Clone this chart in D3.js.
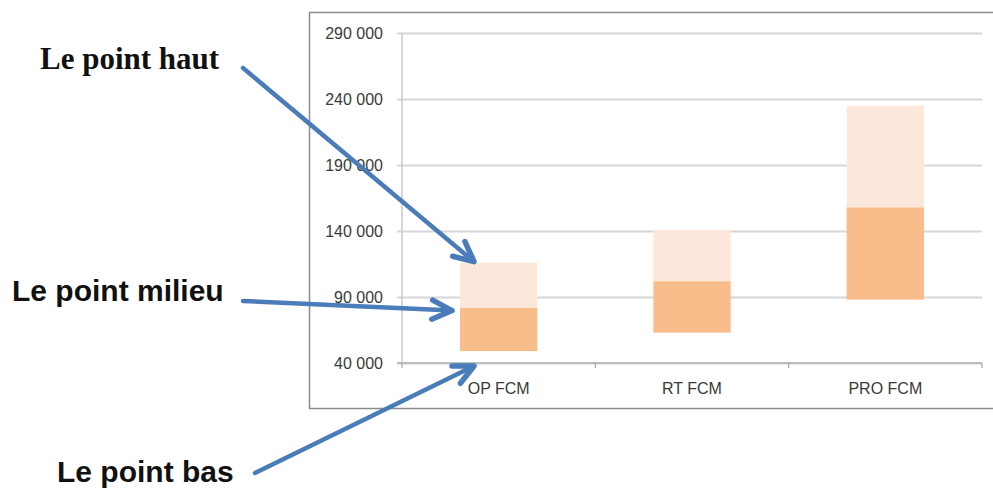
<!DOCTYPE html>
<html>
<head>
<meta charset="utf-8">
<script src="https://cdn.jsdelivr.net/npm/d3@7"></script>
<style>
  body { margin: 0; background: #fff; }
  svg { display: block; }
</style>
</head>
<body>
<div id="chart"></div>
<script>
// data
const categories = ["OP FCM", "RT FCM", "PRO FCM"];
const lowValues = [49000, 63000, 88000];    // le point bas
const midValues = [82000, 102000, 158000];  // le point milieu
const highValues = [116000, 141000, 235000]; // le point haut
const yTicks = [40000, 90000, 140000, 190000, 240000, 290000];
const callouts = ["Le point haut", "Le point milieu", "Le point bas"];

const width = 993, height = 488;
const plot = { left: 402, right: 982, top: 33, bottom: 363 };

const svg = d3.select("#chart").append("svg")
  .attr("width", width)
  .attr("height", height);

// outer chart frame
svg.append("rect")
  .attr("x", 309.5).attr("y", 12.5)
  .attr("width", 700).attr("height", 396)
  .attr("fill", "none")
  .attr("stroke", "#8c8c8c")
  .attr("stroke-width", 1.5);

const x = d3.scaleBand()
  .domain(categories)
  .range([plot.left, plot.right])
  .paddingInner(0.6)
  .paddingOuter(0.3);

const y = d3.scaleLinear()
  .domain([40000, 290000])
  .range([plot.bottom, plot.top]);

const fmt = d => d3.format(",")(d).replace(/,/g, " ");

// gridlines + y labels
const yAxis = svg.append("g")
  .attr("transform", `translate(${plot.left},0)`)
  .call(d3.axisLeft(y).tickValues(yTicks).tickFormat(fmt)
    .tickSize(-(plot.right - plot.left)).tickPadding(19));
yAxis.select(".domain").remove();
yAxis.selectAll(".tick line")
  .attr("x1", -5)
  .attr("stroke", "#d6d6d6")
  .attr("stroke-width", 2);
yAxis.selectAll(".tick text")
  .attr("fill", "#3a3a3a")
  .style("font-family", "'Liberation Sans', Arial, sans-serif")
  .style("font-size", "16px");

// vertical axis line
svg.append("line")
  .attr("x1", plot.left).attr("x2", plot.left)
  .attr("y1", plot.top).attr("y2", plot.bottom)
  .attr("stroke", "#c8c8c8").attr("stroke-width", 1.5);

// category axis with ticks between bands
const step = (plot.right - plot.left) / categories.length;
const xAxis = svg.append("g")
  .attr("transform", `translate(0,${plot.bottom})`);
xAxis.append("line")
  .attr("x1", plot.left - 5).attr("x2", plot.right)
  .attr("stroke", "#bdbdbd").attr("stroke-width", 2);
d3.range(categories.length + 1).forEach(i => {
  xAxis.append("line")
    .attr("x1", plot.left + i * step).attr("x2", plot.left + i * step)
    .attr("y1", 0).attr("y2", 5)
    .attr("stroke", "#a8a8a8").attr("stroke-width", 1.2);
});
xAxis.selectAll(".cat-label")
  .data(categories)
  .enter()
  .append("text")
  .attr("class", "cat-label")
  .attr("x", d => x(d) + x.bandwidth() / 2)
  .attr("y", 31)
  .attr("text-anchor", "middle")
  .attr("fill", "#3a3a3a")
  .style("font-family", "'Liberation Sans', Arial, sans-serif")
  .style("font-size", "16px")
  .text(d => d);

// floating bars: low -> mid darker, mid -> high lighter
const bars = svg.append("g");
bars.selectAll(".seg-low")
  .data(categories)
  .enter()
  .append("rect")
  .attr("class", "seg-low")
  .attr("x", d => x(d))
  .attr("width", x.bandwidth())
  .attr("y", (d, i) => y(midValues[i]))
  .attr("height", (d, i) => y(lowValues[i]) - y(midValues[i]))
  .attr("fill", "#f8bd8b");
bars.selectAll(".seg-high")
  .data(categories)
  .enter()
  .append("rect")
  .attr("class", "seg-high")
  .attr("x", d => x(d))
  .attr("width", x.bandwidth())
  .attr("y", (d, i) => y(highValues[i]))
  .attr("height", (d, i) => y(midValues[i]) - y(highValues[i]))
  .attr("fill", "#fce8da");

// callout arrows pointing at the first bar
const x0 = x(categories[0]);
const arrows = [
  { from: [243, 68], to: [x0 + 14, y(highValues[0]) - 1] },
  { from: [243, 301], to: [x0 - 8, y(midValues[0]) + 3] },
  { from: [255, 473], to: [x0 + 14, y(40000) + 3] }
];
const arrowColor = "#4a7cba";
arrows.forEach(a => {
  const [x1, y1] = a.from, [x2, y2] = a.to;
  const ang = Math.atan2(y2 - y1, x2 - x1);
  const headLen = 22, spread = 0.45;
  svg.append("line")
    .attr("x1", x1).attr("y1", y1).attr("x2", x2).attr("y2", y2)
    .attr("stroke", arrowColor).attr("stroke-width", 4.5)
    .attr("stroke-linecap", "round");
  const p1 = [x2 - headLen * Math.cos(ang - spread), y2 - headLen * Math.sin(ang - spread)];
  const p2 = [x2 - headLen * Math.cos(ang + spread), y2 - headLen * Math.sin(ang + spread)];
  svg.append("path")
    .attr("d", d3.line()([p1, [x2, y2], p2]))
    .attr("fill", "none")
    .attr("stroke", arrowColor).attr("stroke-width", 5.5)
    .attr("stroke-linecap", "round")
    .attr("stroke-linejoin", "round");
});

// callout labels
svg.append("text")
  .attr("x", 40).attr("y", 69)
  .style("font-family", "'Liberation Serif', 'DejaVu Serif', serif")
  .style("font-weight", "bold")
  .style("font-size", "31px")
  .attr("fill", "#111")
  .text(callouts[0]);
svg.append("text")
  .attr("x", 12).attr("y", 301)
  .style("font-family", "'Liberation Sans', Arial, sans-serif")
  .style("font-weight", "bold")
  .style("font-size", "30px")
  .attr("fill", "#111")
  .text(callouts[1]);
svg.append("text")
  .attr("x", 57).attr("y", 482)
  .style("font-family", "'Liberation Sans', Arial, sans-serif")
  .style("font-weight", "bold")
  .style("font-size", "30px")
  .attr("fill", "#111")
  .text(callouts[2]);
</script>
</body>
</html>
